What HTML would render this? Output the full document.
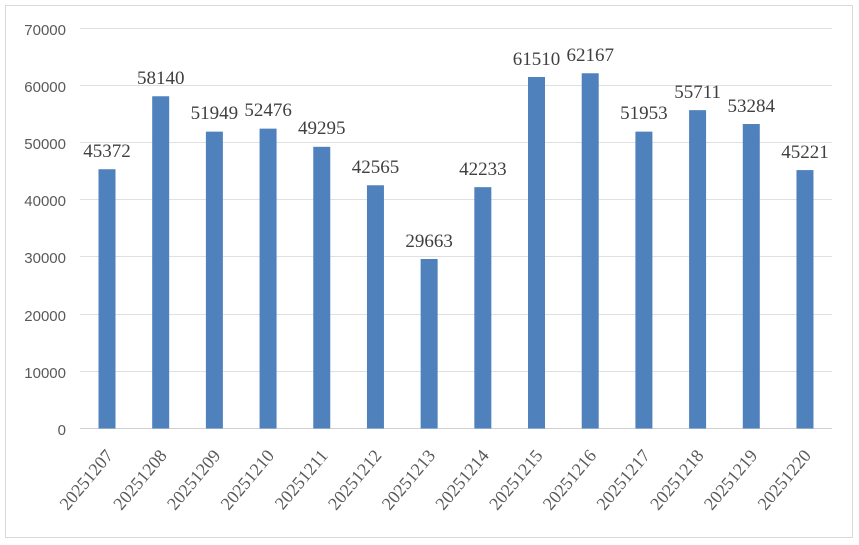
<!DOCTYPE html>
<html><head><meta charset="utf-8"><style>
html,body{margin:0;padding:0;background:#fff;}
svg{display:block;}
</style></head><body>
<svg width="859" height="545" xmlns="http://www.w3.org/2000/svg">
<rect x="5.5" y="5.5" width="847" height="532" fill="#fff" stroke="#d9d9d9" stroke-width="1"/>
<g stroke="#e0e0e0" stroke-width="1">
<line x1="80" x2="832" y1="28.5" y2="28.5"/>
<line x1="80" x2="832" y1="85.5" y2="85.5"/>
<line x1="80" x2="832" y1="142.5" y2="142.5"/>
<line x1="80" x2="832" y1="199.5" y2="199.5"/>
<line x1="80" x2="832" y1="256.5" y2="256.5"/>
<line x1="80" x2="832" y1="314.5" y2="314.5"/>
<line x1="80" x2="832" y1="371.5" y2="371.5"/>
</g>
<line x1="80" x2="832" y1="428.5" y2="428.5" stroke="#d0d0d0"/>
<g font-family="Liberation Sans, sans-serif" font-size="15" fill="#595959" text-anchor="end">
<text x="66" y="35">70000</text>
<text x="66" y="92">60000</text>
<text x="66" y="149">50000</text>
<text x="66" y="206">40000</text>
<text x="66" y="263">30000</text>
<text x="66" y="321">20000</text>
<text x="66" y="378">10000</text>
<text x="66" y="435">0</text>
</g>
<g fill="#4f81bd">
<rect x="98.5" y="169.23" width="17" height="259.27"/>
<rect x="152.19" y="96.27" width="17" height="332.23"/>
<rect x="205.88" y="131.65" width="17" height="296.85"/>
<rect x="259.57" y="128.64" width="17" height="299.86"/>
<rect x="313.26" y="146.81" width="17" height="281.69"/>
<rect x="366.95" y="185.27" width="17" height="243.23"/>
<rect x="420.64" y="259.0" width="17" height="169.5"/>
<rect x="474.33" y="187.17" width="17" height="241.33"/>
<rect x="528.02" y="77.01" width="17" height="351.49"/>
<rect x="581.71" y="73.26" width="17" height="355.24"/>
<rect x="635.4" y="131.63" width="17" height="296.87"/>
<rect x="689.09" y="110.15" width="17" height="318.35"/>
<rect x="742.78" y="124.02" width="17" height="304.48"/>
<rect x="796.47" y="170.09" width="17" height="258.41"/>
</g>
<g font-family="Liberation Serif, serif" font-size="19" fill="#404040" text-anchor="middle">
<text x="107" y="157">45372</text>
<text x="160.69" y="84">58140</text>
<text x="214.38" y="119">51949</text>
<text x="268.07" y="116">52476</text>
<text x="321.76" y="134">49295</text>
<text x="375.45" y="173">42565</text>
<text x="429.14" y="247">29663</text>
<text x="482.83" y="175">42233</text>
<text x="536.52" y="65">61510</text>
<text x="590.21" y="61">62167</text>
<text x="643.9" y="119">51953</text>
<text x="697.59" y="98">55711</text>
<text x="751.28" y="112">53284</text>
<text x="804.97" y="158">45221</text>
</g>
<g font-family="Liberation Serif, serif" font-size="18" fill="#595959" text-anchor="end">
<text transform="translate(114,456) rotate(-50)">20251207</text>
<text transform="translate(167.69,456) rotate(-50)">20251208</text>
<text transform="translate(221.38,456) rotate(-50)">20251209</text>
<text transform="translate(275.07,456) rotate(-50)">20251210</text>
<text transform="translate(328.76,456) rotate(-50)">20251211</text>
<text transform="translate(382.45,456) rotate(-50)">20251212</text>
<text transform="translate(436.14,456) rotate(-50)">20251213</text>
<text transform="translate(489.83,456) rotate(-50)">20251214</text>
<text transform="translate(543.52,456) rotate(-50)">20251215</text>
<text transform="translate(597.21,456) rotate(-50)">20251216</text>
<text transform="translate(650.9,456) rotate(-50)">20251217</text>
<text transform="translate(704.59,456) rotate(-50)">20251218</text>
<text transform="translate(758.28,456) rotate(-50)">20251219</text>
<text transform="translate(811.97,456) rotate(-50)">20251220</text>
</g>
</svg>
</body></html>
